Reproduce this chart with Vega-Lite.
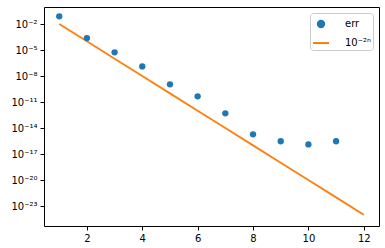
{
  "$schema": "https://vega.github.io/schema/vega-lite/v6.json",
  "width": 335,
  "height": 219,
  "autosize": "none",
  "padding": {"left": 44, "top": 7, "right": 6, "bottom": 22},
  "background": "white",
  "config": {
    "font": "DejaVu Sans",
    "view": {"stroke": "black", "strokeWidth": 1},
    "axis": {
      "grid": false,
      "domain": false,
      "tickColor": "black",
      "tickSize": 4,
      "tickWidth": 1,
      "labelColor": "black",
      "labelFontSize": 10,
      "labelPadding": 3,
      "title": null
    }
  },
  "data": {
    "values": [
      {"n": 1, "value": 7.8e-2, "series": "err"},
      {"n": 2, "value": 2.4e-4, "series": "err"},
      {"n": 3, "value": 5.4e-6, "series": "err"},
      {"n": 4, "value": 1.3e-7, "series": "err"},
      {"n": 5, "value": 1.1e-9, "series": "err"},
      {"n": 6, "value": 4.6e-11, "series": "err"},
      {"n": 7, "value": 5.0e-13, "series": "err"},
      {"n": 8, "value": 1.9e-15, "series": "err"},
      {"n": 9, "value": 3.0e-16, "series": "err"},
      {"n": 10, "value": 1.3e-16, "series": "err"},
      {"n": 11, "value": 3.0e-16, "series": "err"},
      {"n": 1, "value": 1e-2, "series": "10⁻²ⁿ"},
      {"n": 2, "value": 1e-4, "series": "10⁻²ⁿ"},
      {"n": 3, "value": 1e-6, "series": "10⁻²ⁿ"},
      {"n": 4, "value": 1e-8, "series": "10⁻²ⁿ"},
      {"n": 5, "value": 1e-10, "series": "10⁻²ⁿ"},
      {"n": 6, "value": 1e-12, "series": "10⁻²ⁿ"},
      {"n": 7, "value": 1e-14, "series": "10⁻²ⁿ"},
      {"n": 8, "value": 1e-16, "series": "10⁻²ⁿ"},
      {"n": 9, "value": 1e-18, "series": "10⁻²ⁿ"},
      {"n": 10, "value": 1e-20, "series": "10⁻²ⁿ"},
      {"n": 11, "value": 1e-22, "series": "10⁻²ⁿ"},
      {"n": 12, "value": 1e-24, "series": "10⁻²ⁿ"}
    ]
  },
  "encoding": {
    "x": {
      "field": "n",
      "type": "quantitative",
      "scale": {"domain": [0.45, 12.55], "nice": false, "zero": false},
      "axis": {"values": [2, 4, 6, 8, 10, 12]}
    },
    "y": {
      "field": "value",
      "type": "quantitative",
      "scale": {"type": "log", "domain": [5e-26, 0.92], "nice": false},
      "axis": {
        "values": [1e-23, 1e-20, 1e-17, 1e-14, 1e-11, 1e-8, 1e-5, 1e-2],
        "labelExpr": "'10⁻' + (floor(-round(log(datum.value)/LN10)/10) > 0 ? substring('⁰¹²³⁴⁵⁶⁷⁸⁹', floor(-round(log(datum.value)/LN10)/10), floor(-round(log(datum.value)/LN10)/10) + 1) : '') + substring('⁰¹²³⁴⁵⁶⁷⁸⁹', (-round(log(datum.value)/LN10)) % 10, (-round(log(datum.value)/LN10)) % 10 + 1)"
      }
    },
    "color": {
      "field": "series",
      "type": "nominal",
      "scale": {"domain": ["err", "10⁻²ⁿ"], "range": ["#1f77b4", "#ff7f0e"]},
      "legend": {
        "title": null,
        "orient": "top-right",
        "offset": 6,
        "padding": 2,
        "rowPadding": 2,
        "labelFontSize": 10,
        "labelColor": "black",
        "labelExpr": "datum.label + '  '",
        "strokeColor": "#cccccc",
        "fillColor": "white",
        "cornerRadius": 3,
        "symbolSize": 100,
        "labelOffset": 15,
        "encode": {
          "symbols": {
            "update": {
              "shape": {"signal": "datum.value === 'err' ? 'circle' : 'stroke'"},
              "fill": {"signal": "datum.value === 'err' ? '#1f77b4' : 'transparent'"},
              "stroke": {"signal": "datum.value === 'err' ? 'transparent' : '#ff7f0e'"},
              "strokeWidth": {"value": 2},
              "size": {"signal": "datum.value === 'err' ? 40 : 256"},
              "opacity": {"value": 1}
            }
          }
        }
      }
    }
  },
  "layer": [
    {
      "transform": [{"filter": "datum.series !== 'err'"}],
      "mark": {"type": "line", "strokeWidth": 1.8}
    },
    {
      "transform": [{"filter": "datum.series === 'err'"}],
      "mark": {"type": "point", "filled": true, "size": 40, "opacity": 1}
    }
  ]
}
